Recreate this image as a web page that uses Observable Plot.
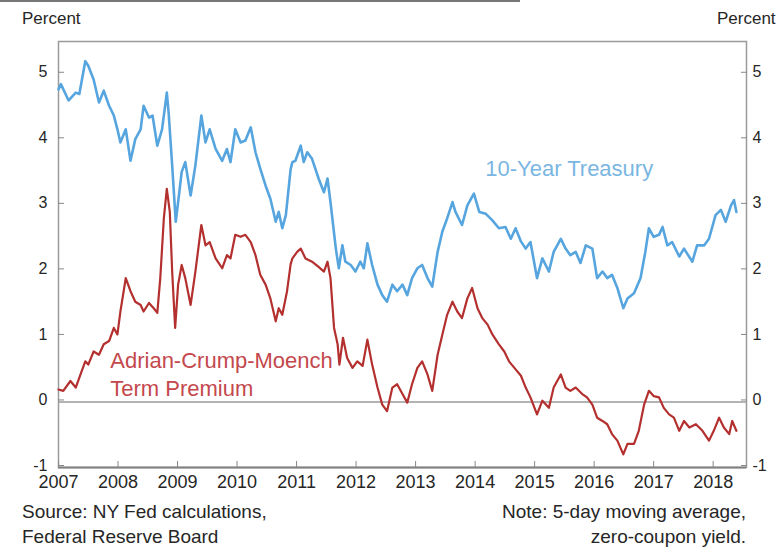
<!DOCTYPE html>
<html><head><meta charset="utf-8">
<script src="https://cdn.jsdelivr.net/npm/d3@7"></script>
<script src="https://cdn.jsdelivr.net/npm/@observablehq/plot@0.6"></script>
<style>
body{margin:0;background:#fff;font-family:"Liberation Sans",Arial,sans-serif;}
#wrap{position:relative;width:776px;height:553px;overflow:hidden;background:#fff;}
.t{position:absolute;color:#262626;font-size:19px;white-space:nowrap;line-height:25px;}
.p{font-size:17px;}
#topline{position:absolute;left:0;top:0;width:520px;height:2px;background:#777;}
</style></head><body><div id="wrap">
<div id="topline"></div>
<div class="t p" style="left:22px;top:6px">Percent</div>
<div class="t p" style="left:717px;top:6px">Percent</div>
<div id="chart" style="position:absolute;left:0;top:30px"></div>
<div class="t" style="left:22px;top:499px">Source: NY Fed calculations,<br>Federal Reserve Board</div>
<div class="t" style="right:30px;top:499px;text-align:right">Note: 5-day moving average,<br>zero-coupon yield.</div>
</div>
<script>
// 10-Year Treasury (decimal year, percent)
const tyYears = [2007.00,2007.04,2007.17,2007.29,2007.35,2007.45,2007.50,2007.59,2007.68,2007.76,2007.85,2007.93,2007.99,
2008.04,2008.13,2008.21,2008.29,2008.38,2008.43,2008.52,2008.58,2008.66,2008.74,2008.82,2008.85,2008.91,2008.97,
2009.01,2009.07,2009.13,2009.22,2009.30,2009.40,2009.47,2009.54,2009.64,2009.75,2009.83,2009.89,2009.97,
2010.06,2010.14,2010.23,2010.31,2010.39,2010.48,2010.56,2010.65,2010.70,2010.76,2010.82,2010.90,2010.93,2010.98,
2011.07,2011.12,2011.18,2011.26,2011.37,2011.46,2011.52,2011.57,2011.66,2011.71,2011.77,2011.82,2011.91,2011.99,
2012.07,2012.13,2012.19,2012.27,2012.36,2012.44,2012.52,2012.61,2012.69,2012.78,2012.86,2012.94,
2013.03,2013.11,2013.20,2013.28,2013.37,2013.45,2013.53,2013.62,2013.67,2013.78,2013.87,2013.98,
2014.07,2014.18,2014.29,2014.40,2014.51,2014.60,2014.68,2014.77,2014.85,2014.93,
2015.04,2015.13,2015.24,2015.32,2015.44,2015.52,2015.60,2015.69,2015.77,2015.86,2015.97,
2016.05,2016.14,2016.22,2016.30,2016.39,2016.49,2016.56,2016.67,2016.78,2016.86,2016.92,
2017.00,2017.09,2017.15,2017.23,2017.31,2017.43,2017.51,2017.65,2017.73,2017.85,2017.93,
2018.04,2018.13,2018.21,2018.30,2018.35,2018.39];
const tyValues = [4.77,4.85,4.60,4.72,4.70,5.20,5.13,4.92,4.57,4.75,4.52,4.37,4.16,
3.96,4.16,3.68,4.01,4.16,4.52,4.34,4.37,3.91,4.16,4.72,4.42,3.61,2.75,
3.05,3.51,3.66,3.15,3.61,4.37,3.96,4.16,3.86,3.68,3.86,3.66,4.16,
3.96,3.99,4.19,3.81,3.56,3.30,3.10,2.75,2.90,2.65,2.85,3.55,3.66,3.68,
3.91,3.66,3.81,3.71,3.41,3.20,3.41,3.05,2.34,2.04,2.39,2.14,2.09,1.99,
2.14,2.04,2.42,2.09,1.79,1.63,1.53,1.79,1.69,1.79,1.63,1.89,
2.04,2.09,1.89,1.76,2.29,2.60,2.80,3.05,2.90,2.70,3.00,3.18,
2.90,2.87,2.77,2.65,2.67,2.49,2.65,2.45,2.34,2.44,
1.89,2.19,1.99,2.29,2.49,2.34,2.24,2.29,2.12,2.39,2.34,
1.89,1.99,1.89,1.94,1.74,1.43,1.58,1.66,1.89,2.29,2.65,
2.52,2.55,2.67,2.39,2.44,2.22,2.34,2.14,2.39,2.39,2.49,
2.85,2.93,2.75,3.00,3.08,2.90];

// Adrian-Crump-Moench Term Premium (decimal year, percent)
const tpYears = [2007.00,2007.08,2007.20,2007.29,2007.37,2007.45,2007.50,2007.59,2007.68,2007.76,2007.85,2007.93,2007.99,
2008.04,2008.13,2008.21,2008.29,2008.38,2008.43,2008.52,2008.60,2008.66,2008.71,2008.77,2008.82,2008.87,2008.91,2008.96,
2009.01,2009.07,2009.13,2009.22,2009.30,2009.40,2009.47,2009.54,2009.64,2009.75,2009.83,2009.89,2009.97,
2010.06,2010.14,2010.23,2010.31,2010.39,2010.48,2010.56,2010.65,2010.70,2010.76,2010.84,2010.90,2010.93,
2011.01,2011.07,2011.15,2011.26,2011.37,2011.46,2011.52,2011.57,2011.63,2011.69,2011.72,2011.78,2011.85,2011.94,
2012.02,2012.11,2012.19,2012.27,2012.36,2012.44,2012.52,2012.61,2012.69,2012.78,2012.86,2012.94,
2013.03,2013.11,2013.20,2013.28,2013.37,2013.45,2013.53,2013.62,2013.70,2013.78,2013.87,2013.95,
2014.04,2014.12,2014.21,2014.29,2014.40,2014.49,2014.57,2014.66,2014.77,2014.85,2014.93,
2015.04,2015.13,2015.24,2015.32,2015.44,2015.52,2015.60,2015.69,2015.80,2015.88,2015.97,
2016.05,2016.14,2016.22,2016.30,2016.39,2016.49,2016.56,2016.67,2016.75,2016.84,2016.92,
2017.00,2017.09,2017.17,2017.26,2017.34,2017.43,2017.51,2017.60,2017.71,2017.82,2017.93,
2018.01,2018.10,2018.18,2018.27,2018.32,2018.39];
const tpValues = [0.19,0.17,0.32,0.22,0.42,0.62,0.57,0.77,0.72,0.88,0.93,1.13,1.03,
1.38,1.89,1.69,1.53,1.48,1.38,1.51,1.43,1.36,1.89,2.80,3.25,2.90,1.99,1.13,
1.79,2.09,1.89,1.48,1.99,2.70,2.39,2.44,2.19,2.04,2.24,2.19,2.55,
2.52,2.55,2.44,2.24,1.94,1.79,1.58,1.23,1.43,1.33,1.69,2.10,2.19,
2.29,2.34,2.19,2.14,2.06,1.99,2.14,1.89,1.13,0.88,0.57,0.98,0.67,0.52,
0.62,0.55,0.95,0.57,0.22,-0.04,-0.14,0.22,0.27,0.12,-0.01,0.27,
0.52,0.62,0.42,0.17,0.72,1.03,1.33,1.53,1.38,1.28,1.58,1.74,
1.43,1.28,1.18,1.03,0.88,0.77,0.62,0.52,0.40,0.22,0.07,
-0.19,0.02,-0.09,0.22,0.42,0.22,0.17,0.22,0.12,0.07,-0.04,
-0.24,-0.29,-0.34,-0.49,-0.59,-0.80,-0.64,-0.64,-0.44,-0.04,0.17,
0.09,0.07,-0.09,-0.19,-0.24,-0.44,-0.29,-0.39,-0.34,-0.44,-0.59,
-0.44,-0.24,-0.39,-0.49,-0.29,-0.44];

const yearTicks = [2007,2008,2009,2010,2011,2012,2013,2014,2015,2016,2017,2018];
const valueTicks = [-1,0,1,2,3,4,5];
const seriesLabels = ["10-Year Treasury", "Adrian-Crump-Moench\nTerm Premium"];
const labelX = [2014.17, 2007.87];
const labelY = [3.45, 0.09];

const chart = Plot.plot({
  width: 776, height: 465,
  marginTop: 11, marginLeft: 58, marginRight: 30, marginBottom: 28,
  x: {domain: [2007, 2018.56]},
  y: {domain: [-1, 5.5]},
  style: {fontFamily: "Liberation Sans, Arial, sans-serif", fontSize: "18px", color: "#262626", background: "transparent", overflow: "visible"},
  marks: [
    Plot.frame({stroke: "#9a9a9a", strokeWidth: 1.5}),
    Plot.ruleY([0], {stroke: "#9a9a9a", strokeWidth: 1.5}),
    Plot.ruleY([-1], {stroke: "#808080", strokeWidth: 2}),
    Plot.axisX(yearTicks, {anchor: "bottom", tickSize: -6, tickPadding: 14, tickFormat: d => String(d), label: null, stroke: "#888"}),
    Plot.axisY(valueTicks, {anchor: "left", tickSize: -6, tickPadding: 17, tickFormat: d => String(d), label: null, stroke: "#888", fontSize: 16, dy: -2}),
    Plot.axisY(valueTicks, {anchor: "right", tickSize: -6, tickPadding: 12, tickFormat: d => String(d), label: null, stroke: "#888", fontSize: 16, dy: -2}),
    Plot.line(tyYears, {x: tyYears, y: tyValues, stroke: "#56a5df", strokeWidth: 2.6, curve: "linear"}),
    Plot.line(tpYears, {x: tpYears, y: tpValues, stroke: "#b3302f", strokeWidth: 2.2, curve: "linear"}),
    Plot.text([0], {x: [labelX[0]], y: [labelY[0]], text: [seriesLabels[0]], textAnchor: "start", lineAnchor: "bottom", fill: "#7ab6e2", fontSize: 22}),
    Plot.text([0], {x: [labelX[1]], y: [labelY[1]], text: [seriesLabels[1]], textAnchor: "start", lineAnchor: "bottom", fill: "#c4484d", fontSize: 22, lineHeight: 1.28})
  ]
});
document.getElementById("chart").append(chart);
</script>
</body></html>
